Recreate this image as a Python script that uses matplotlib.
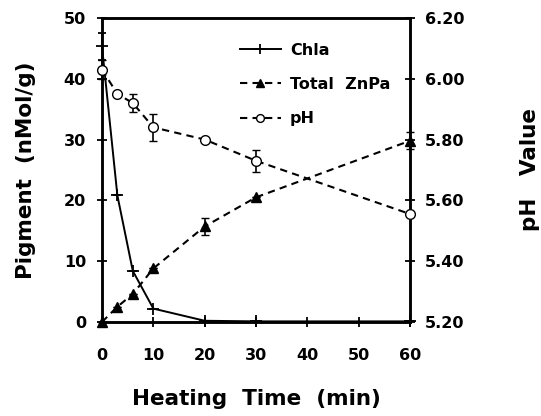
import matplotlib
matplotlib.use('Agg')
import matplotlib.pyplot as plt

plt.rcParams['font.family'] = ['DejaVu Sans']
plt.rcParams['font.weight'] = 'bold'
plt.rcParams['axes.labelweight'] = 'bold'

# data
time = [0, 3, 6, 10, 20, 30, 60]
chla = [45.3, 20.8, 8.4, 2.2, 0.2, 0.1, 0.1]
chla_err = [2.2, 0, 0, 0, 0, 0, 0]
znpa = [0, 2.5, 4.6, 8.8, 15.7, 20.5, 29.8]
znpa_err = [0, 0, 0, 0, 1.4, 0, 1.4]
ph = [6.03, 5.95, 5.92, 5.84, 5.80, 5.73, 5.555]
ph_err = [0.03, 0, 0.03, 0.045, 0, 0.036, 0]

xticks = [0, 10, 20, 30, 40, 50, 60]
yticks = [0, 10, 20, 30, 40, 50]
phticks = [5.2, 5.4, 5.6, 5.8, 6.0, 6.2]

fig = plt.figure(figsize=(5.41, 4.16), dpi=100)
ax = fig.add_axes([0.1885, 0.226, 0.5695, 0.731])
ax2 = ax.twinx()

l1 = ax.errorbar(time, chla, yerr=chla_err, color='black', lw=1.4, ls='-',
                 marker='+', ms=9, mew=1.3, capsize=3, elinewidth=1.2,
                 clip_on=False, label='Chla', zorder=3)
l2 = ax.errorbar(time, znpa, yerr=znpa_err, color='black', lw=1.5, ls=(0, (3.5, 2.5)),
                 marker='^', ms=7, capsize=3, elinewidth=1.2,
                 clip_on=False, label='Total ZnPa', zorder=3)
l3 = ax2.errorbar(time, ph, yerr=ph_err, color='black', lw=1.5, ls=(0, (3.5, 2.5)),
                  marker='o', ms=7, mfc='white', mew=1.0, capsize=3, elinewidth=1.2,
                  clip_on=False, label='pH', zorder=3)

ax.set_xlim(0, 60)
ax.set_ylim(0, 50)
ax2.set_ylim(5.2, 6.2)
ax.set_xticks(xticks)
ax.set_yticks(yticks)
ax2.set_yticks(phticks)
ax2.set_yticklabels(['%.2f' % t for t in phticks])

for a in (ax, ax2):
    for s in a.spines.values():
        s.set_linewidth(1.8)
    a.tick_params(direction='inout', length=7, width=1.3, labelsize=11.5)
ax.tick_params(axis='x', pad=15)
ax.tick_params(axis='y', pad=8)
ax2.tick_params(axis='y', pad=7)

ax.set_xlabel('Heating  Time  (min)', fontsize=15.5, labelpad=19)
ax.set_ylabel('Pigment  (nMol/g)', fontsize=15.5, labelpad=20)
ax2.set_ylabel('pH   Value', fontsize=15.5, labelpad=40)

# legend shows only line + marker, no error bars
leg = ax.legend([l1[0], l2[0], l3[0]], ['Chla', 'Total  ZnPa', 'pH'], loc='upper left',
                bbox_to_anchor=(0.4, 0.965), frameon=False, fontsize=11.5,
                handlelength=2.6, labelspacing=1.2, handletextpad=0.55,
                markerscale=0.8)

fig.savefig('out.png', dpi=100)
